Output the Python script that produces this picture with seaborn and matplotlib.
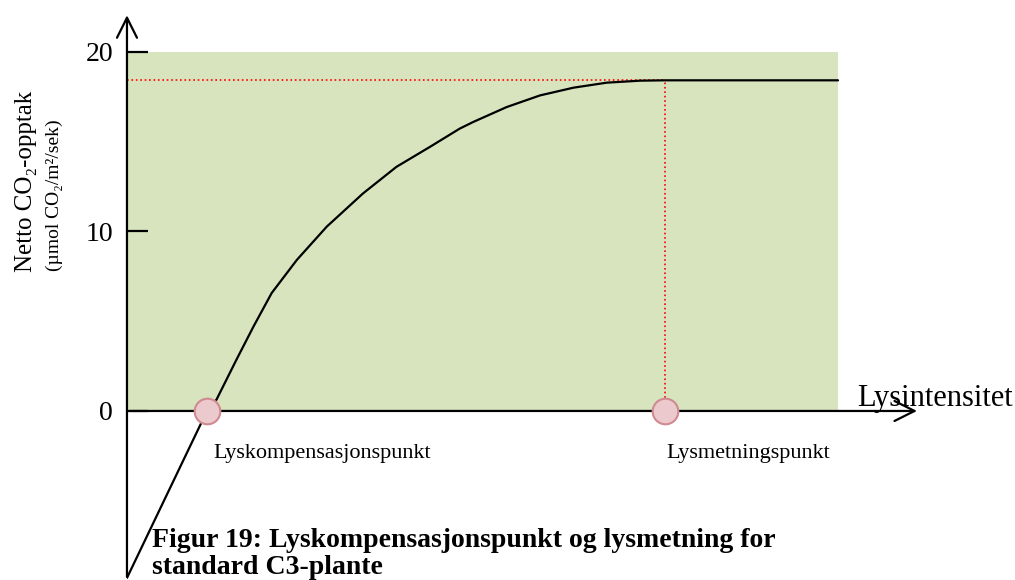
import numpy as np
import pandas as pd
import seaborn as sns
import matplotlib.pyplot as plt

# Light response curve (light intensity 0-100, net CO2 uptake)
light = [0.0, 11.25, 12.6, 15.4, 17.8, 20.35, 23.9, 28.1, 33.2, 37.9, 42.6, 46.8,
         48.7, 53.4, 58.1, 62.8, 67.5, 72.2, 75.67, 100.0]
uptake = [-9.3, 0.0, 0.64, 2.86, 4.71, 6.57, 8.42, 10.27, 12.12, 13.6, 14.71, 15.73,
          16.1, 16.93, 17.58, 18.01, 18.29, 18.4, 18.42, 18.42]

comp_point = 11.25
sat_point = 75.67
sat_level = 18.42
y_ticks = [0, 10, 20]
point_labels = ["Lyskompensasjonspunkt", "Lysmetningspunkt"]
caption = ["Figur 19: Lyskompensasjonspunkt og lysmetning for", "standard C3-plante"]

sns.set_theme(style="white")
plt.rcParams['font.family'] = ['Liberation Serif', 'DejaVu Serif']
plt.rcParams['text.color'] = 'black'
plt.rcParams['ytick.color'] = 'black'
plt.rcParams['ytick.labelcolor'] = 'black'

fig = plt.figure(figsize=(10.15, 5.8), dpi=100)
ax = fig.add_axes([0.1251, 0.0005, 0.8056, 0.9873])
ax.set_xlim(0, 115)
ax.set_ylim(-9.4, 22.5)

# green background
ax.fill_between([0, 100], 0, 20, color="#d7e4bd", zorder=0, lw=0)

# red dotted guides
ax.plot([0, sat_point], [sat_level, sat_level], color="red", ls=":", lw=1.2, zorder=1)
ax.plot([sat_point, sat_point], [0, sat_level], color="red", ls=":", lw=1.2, zorder=1)

# the curve
df = pd.DataFrame({"light": light, "uptake": uptake})
sns.lineplot(data=df, x="light", y="uptake", sort=False, color="black", lw=1.6, ax=ax, zorder=3)

# axes with arrows
ax.annotate("", xy=(0, 22.2), xytext=(0, -9.4),
            arrowprops=dict(arrowstyle="->,head_length=1.2,head_width=0.6", color="black", lw=1.6))
ax.annotate("", xy=(111.5, 0), xytext=(0, 0),
            arrowprops=dict(arrowstyle="->,head_length=1.2,head_width=0.6", color="black", lw=1.6))

# points
pts = pd.DataFrame({"x": [comp_point, sat_point], "y": [0, 0]})
sns.scatterplot(data=pts, x="x", y="y", s=340, color="#ebc9cc", edgecolor="#cf8a92",
                linewidth=1.5, ax=ax, zorder=5)

for s in ax.spines.values():
    s.set_visible(False)
ax.set_xticks([])
ax.set_yticks(y_ticks)
ax.set_yticklabels([str(t) for t in y_ticks], fontsize=20)
ax.tick_params(axis="y", direction="in", length=15, width=1.6, pad=10, left=True, color="black")
ax.set_xlabel("")
ax.set_ylabel("")

ax.text(102.7, 0.25, "Lysintensitet", fontsize=22, ha="left", va="baseline")
ax.text(12.1, -2.6, point_labels[0], fontsize=16, ha="left", va="baseline")
ax.text(75.9, -2.6, point_labels[1], fontsize=16, ha="left", va="baseline")

fig.text(26 / 1015, 1 - 181 / 580, "Netto CO₂-opptak", rotation=90, fontsize=18,
         ha="center", va="center")
fig.text(54 / 1015, 1 - 195 / 580, "(µmol CO₂/m²/sek)", rotation=90, fontsize=14,
         ha="center", va="center")

fig.text(152 / 1015, 1 - 547 / 580, caption[0], fontsize=20, fontweight="bold",
         ha="left", va="baseline")
fig.text(152 / 1015, 1 - 574 / 580, caption[1], fontsize=20, fontweight="bold",
         ha="left", va="baseline")

fig.savefig("out.png", dpi=100)
